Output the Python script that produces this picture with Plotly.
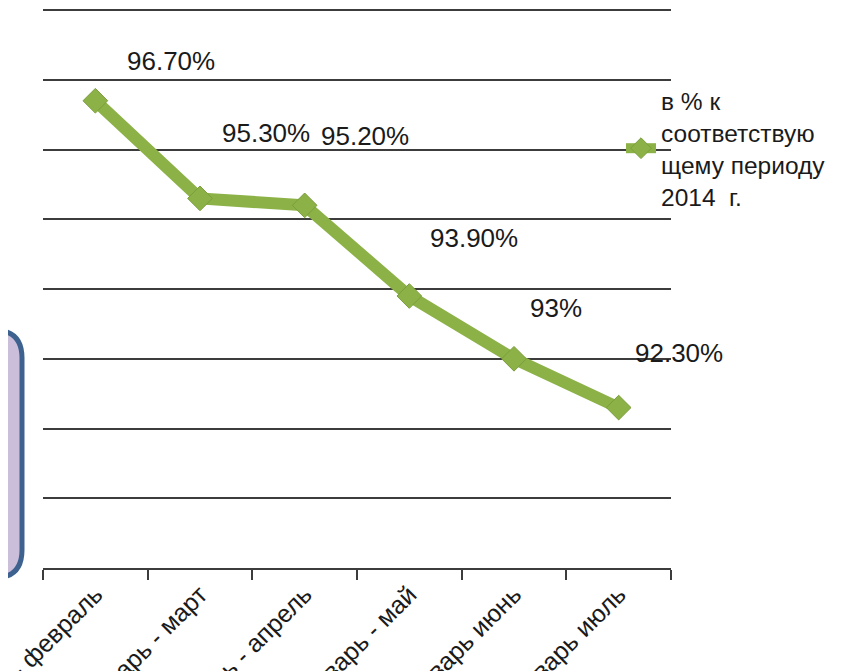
import plotly.graph_objects as go

# периоды и значения
periods = ["январь - февраль", "январь - март", "январь - апрель",
           "январь - май", "январь июнь", "январь июль"]
values = [96.7, 95.3, 95.2, 93.9, 93.0, 92.3]
value_labels = ["96.70%", "95.30%", "95.20%", "93.90%", "93%", "92.30%"]
series_name = "в % к<br>соответствую<br>щему периоду<br>2014  г."

# сдвиги подписей (пиксели)
label_dx = [76, 66, 60, 65, 42, 60]
label_dy = [40, 65, 69, 58, 51, 55]

GREEN = "#8cb247"
GRID = "#3c3c3c"
FONT = "Liberation Sans, Arial, sans-serif"

# размеры области построения (px); страница сдвинута на 8px (margin body)
OX, OY = 8, 8
L, R, T, B = 35, 193, 0, 111
W, H = 856, 671
pw, ph = W - L - R, H - T - B


def px(x):
    return (x - OX - L) / pw


def py(y):
    return (H - B - (y - OY)) / ph


fig = go.Figure()
fig.add_trace(go.Scatter(
    x=periods, y=values, name=series_name,
    mode="lines+markers",
    line=dict(color=GREEN, width=12),
    marker=dict(symbol="diamond", size=19, color=GREEN,
                line=dict(color="#7a9e3c", width=1)),
))

for p, v, t, dx, dy in zip(periods, values, value_labels, label_dx, label_dy):
    fig.add_annotation(x=p, y=v, text=t, showarrow=False,
                       xshift=dx, yshift=dy,
                       font=dict(family=FONT, size=26, color="#1a1a1a"))

# фиолетовая плашка слева (часть слайда)
r = 28
x0, x1, y0, y1 = -30, 22, 330, 578
path = (f"M {px(x0)},{py(y0)} L {px(x1 - r)},{py(y0)} "
        f"Q {px(x1)},{py(y0)} {px(x1)},{py(y0 + r)} "
        f"L {px(x1)},{py(y1 - r)} "
        f"Q {px(x1)},{py(y1)} {px(x1 - r)},{py(y1)} "
        f"L {px(x0)},{py(y1)} Z")
fig.add_shape(type="path", path=path, xref="paper", yref="paper",
              fillcolor="#cbbedb", line=dict(color="#3d6290", width=5))

fig.update_layout(
    width=W, height=H,
    margin=dict(l=L, r=R, t=T, b=B),
    paper_bgcolor="white", plot_bgcolor="white",
    font=dict(family=FONT, size=24, color="#1a1a1a"),
    legend=dict(x=px(621), y=py(78), xanchor="left", yanchor="top",
                bgcolor="rgba(0,0,0,0)", font=dict(size=24.5),
                tracegroupgap=0),
    showlegend=True,
)
fig.update_xaxes(
    range=[-0.5, 5.5],
    showline=True, linecolor=GRID, linewidth=2,
    ticks="outside", ticklen=10, tickwidth=2, tickcolor=GRID,
    tickson="boundaries", tickangle=-45,
    tickfont=dict(size=25), showgrid=False, automargin=False,
)
fig.update_yaxes(
    range=[90, 98.03], showticklabels=False, showline=False,
    showgrid=True, gridcolor=GRID, gridwidth=2, dtick=1,
    zeroline=False, automargin=False,
)

fig.write_html("out.html")
